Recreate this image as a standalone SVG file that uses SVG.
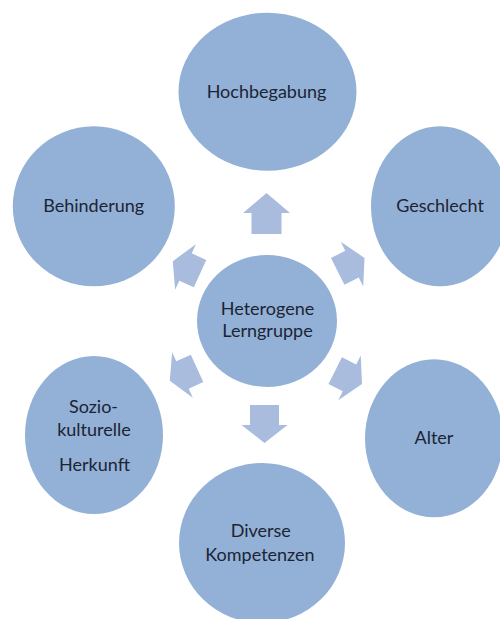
<svg xmlns="http://www.w3.org/2000/svg" width="500" height="619" viewBox="0 0 500 619">
<style>
.c{fill:#93b1d6}
.a{fill:#a9bcdd}
text{font-family:Lato,"Liberation Sans",sans-serif;font-size:18px;fill:#1b2434;text-anchor:middle}
</style>
<defs>
<polygon id="darr" points="14,0 0,25 0,15 -16,15 -16,-15 0,-15 0,-25"/>
</defs>
<rect width="500" height="619" fill="#ffffff"/>
<g id="connectors">
<polygon class="a" points="266.5,193 290,213 281.5,213 281.5,234 251.5,234 251.5,213 243,213"/>
<polygon class="a" points="264.5,443 287.5,425 279,425 279,405 250,405 250,425 241.5,425"/>
<use href="#darr" class="a" transform="translate(352,264.2) rotate(-26.7)"/>
<use href="#darr" class="a" transform="translate(185.5,267) rotate(-155.5)"/>
<use href="#darr" class="a" transform="translate(349.5,377.8) rotate(26.7)"/>
<use href="#darr" class="a" transform="translate(182.5,375) rotate(155.5)"/>
</g>
<g id="center">
<ellipse class="c" cx="267" cy="321" rx="70" ry="66"/>
<text x="267.5" y="315">Heterogene</text>
<text x="267.5" y="336.7">Lerngruppe</text>
</g>
<g id="hochbegabung">
<ellipse class="c" cx="267.5" cy="91.7" rx="89" ry="79"/>
<text x="266.5" y="98">Hochbegabung</text>
</g>
<g id="behinderung">
<ellipse class="c" cx="93.8" cy="206.3" rx="81" ry="80"/>
<text x="93.7" y="212">Behinderung</text>
</g>
<g id="geschlecht">
<ellipse class="c" cx="440" cy="206.3" rx="69" ry="80"/>
<text x="440" y="212">Geschlecht</text>
</g>
<g id="alter">
<ellipse class="c" cx="434" cy="438.3" rx="69" ry="79"/>
<text x="434" y="444">Alter</text>
</g>
<g id="sozio">
<ellipse class="c" cx="94" cy="435" rx="69" ry="79"/>
<text x="93.5" y="412.5">Sozio-</text>
<text x="94" y="436">kulturelle</text>
<text x="94.5" y="470.5">Herkunft</text>
</g>
<g id="diverse">
<ellipse class="c" cx="262" cy="543" rx="83" ry="80"/>
<text x="260.8" y="537">Diverse</text>
<text x="260" y="561">Kompetenzen</text>
</g>
</svg>
